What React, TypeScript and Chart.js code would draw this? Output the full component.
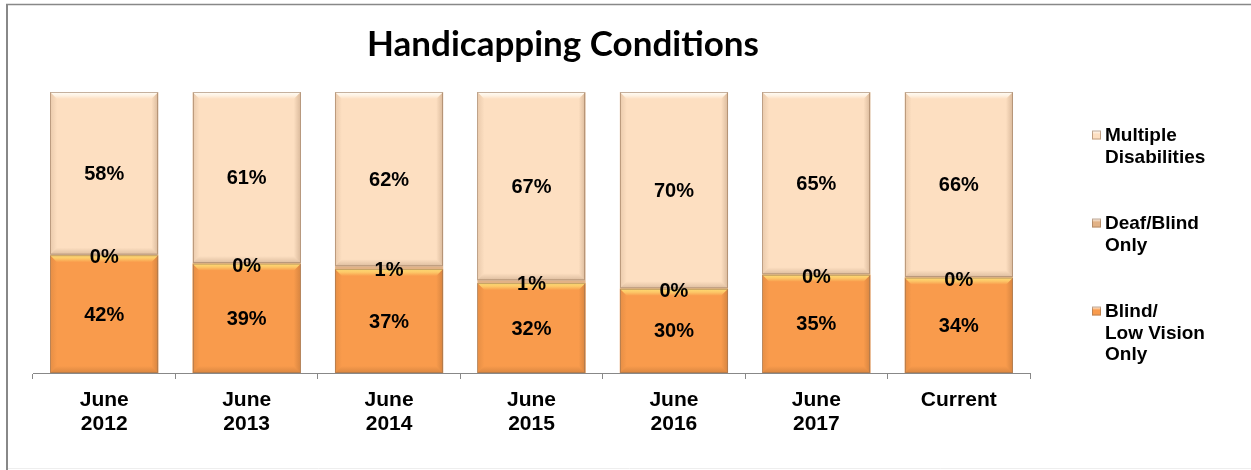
import React, { useEffect, useRef } from 'react';
import { Chart, registerables } from 'chart.js';

Chart.register(...registerables);

const categories: (string | string[])[] = [
  ['June', '2012'],
  ['June', '2013'],
  ['June', '2014'],
  ['June', '2015'],
  ['June', '2016'],
  ['June', '2017'],
  'Current',
];
const blindLowVision = [42, 39, 37, 32, 30, 35, 34];
const deafBlind = [0.2, 0.2, 1, 1, 0.2, 0.2, 0.2];
const multipleDisabilities = [58, 61, 62, 67, 70, 65, 66];

const seriesLabels = [['Blind/', 'Low Vision', 'Only'], ['Deaf/Blind', 'Only'], ['Multiple', 'Disabilities']];
const seriesColors = ['#F99B4C', '#E2B286', '#FDDFC1'];
const highlightColors = ['255,226,120', '255,240,200', '255,255,250'];
const titleText = 'Handicapping Conditions';

const FONT = "'Liberation Sans', Arial, sans-serif";

const rawSeries = [blindLowVision, deafBlind, multipleDisabilities];
const totals = categories.map((_, i) => rawSeries.reduce((s, arr) => s + arr[i], 0));
const shares = rawSeries.map((arr) => arr.map((v, i) => (v / totals[i]) * 100));

const bevelPlugin = {
  id: 'bevel',
  afterDatasetsDraw(chart: any) {
    const ctx: CanvasRenderingContext2D = chart.ctx;
    chart.data.datasets.forEach((_ds: any, di: number) => {
      const meta = chart.getDatasetMeta(di);
      meta.data.forEach((bar: any) => {
        const { x, y, base, width } = bar.getProps(['x', 'y', 'base', 'width'], true);
        const left = x - width / 2;
        const right = x + width / 2;
        const top = Math.min(y, base);
        const bottom = Math.max(y, base);
        const h = bottom - top;
        if (h < 4) return;
        const b = Math.min(7, h / 2);
        ctx.save();
        let g = ctx.createLinearGradient(0, top, 0, top + b);
        g.addColorStop(0, `rgba(${highlightColors[di]},0.95)`);
        g.addColorStop(0.5, `rgba(${highlightColors[di]},0.6)`);
        g.addColorStop(1, `rgba(${highlightColors[di]},0)`);
        ctx.fillStyle = g;
        ctx.beginPath();
        ctx.moveTo(left, top);
        ctx.lineTo(right, top);
        ctx.lineTo(right - b, top + b);
        ctx.lineTo(left + b, top + b);
        ctx.closePath();
        ctx.fill();
        g = ctx.createLinearGradient(right - b, 0, right, 0);
        g.addColorStop(0, 'rgba(90,50,20,0)');
        g.addColorStop(1, 'rgba(90,50,20,0.22)');
        ctx.fillStyle = g;
        ctx.beginPath();
        ctx.moveTo(right, top);
        ctx.lineTo(right, bottom);
        ctx.lineTo(right - b, bottom - b);
        ctx.lineTo(right - b, top + b);
        ctx.closePath();
        ctx.fill();
        g = ctx.createLinearGradient(left, 0, left + b, 0);
        g.addColorStop(0, 'rgba(90,50,20,0.12)');
        g.addColorStop(1, 'rgba(90,50,20,0)');
        ctx.fillStyle = g;
        ctx.beginPath();
        ctx.moveTo(left, top);
        ctx.lineTo(left + b, top + b);
        ctx.lineTo(left + b, bottom - b);
        ctx.lineTo(left, bottom);
        ctx.closePath();
        ctx.fill();
        g = ctx.createLinearGradient(0, bottom - b, 0, bottom);
        g.addColorStop(0, 'rgba(90,50,20,0)');
        g.addColorStop(1, 'rgba(90,50,20,0.2)');
        ctx.fillStyle = g;
        ctx.beginPath();
        ctx.moveTo(left, bottom);
        ctx.lineTo(right, bottom);
        ctx.lineTo(right - b, bottom - b);
        ctx.lineTo(left + b, bottom - b);
        ctx.closePath();
        ctx.fill();
        ctx.strokeStyle = 'rgba(150,115,85,0.55)';
        ctx.lineWidth = 1;
        ctx.strokeRect(Math.round(left) + 0.5, top + 0.5, Math.round(width) - 1, h - 1);
        ctx.restore();
      });
    });
  },
};

const decorPlugin = {
  id: 'decor',
  afterDraw(chart: any) {
    const ctx: CanvasRenderingContext2D = chart.ctx;
    ctx.save();
    ctx.font = `bold 20px ${FONT}`;
    ctx.fillStyle = '#000';
    ctx.textAlign = 'center';
    ctx.textBaseline = 'middle';
    chart.data.datasets.forEach((_ds: any, di: number) => {
      const meta = chart.getDatasetMeta(di);
      meta.data.forEach((bar: any, i: number) => {
        const { x, y, base } = bar.getProps(['x', 'y', 'base'], true);
        const cy = (y + base) / 2 + (di === 1 ? 2 : 0);
        ctx.fillText(`${Math.round(rawSeries[di][i])}%`, x, cy + 1);
      });
    });

    ctx.font = `bold 35px Lato, ${FONT}`;
    ctx.textBaseline = 'alphabetic';
    ctx.fillText(titleText, 563, 56);

    ctx.font = `bold 19px ${FONT}`;
    ctx.textAlign = 'left';
    ctx.textBaseline = 'middle';
    const order = [2, 1, 0];
    order.forEach((si, k) => {
      const y0 = 135 + k * 88;
      const g = ctx.createLinearGradient(1092, y0 - 4.5, 1092, y0 + 4.5);
      g.addColorStop(0, '#ffffff');
      g.addColorStop(0.4, seriesColors[si]);
      g.addColorStop(1, seriesColors[si]);
      ctx.fillStyle = g;
      ctx.fillRect(1092, y0 - 4.5, 9, 9);
      ctx.strokeStyle = 'rgba(150,115,85,0.6)';
      ctx.lineWidth = 1;
      ctx.strokeRect(1092.5, y0 - 4, 8, 8);
      ctx.fillStyle = '#000';
      seriesLabels[si].forEach((line, li) => {
        ctx.fillText(line, 1105, y0 + li * 21.5 + 1);
      });
    });

    ctx.strokeStyle = '#888';
    ctx.lineWidth = 2;
    ctx.beginPath();
    ctx.moveTo(7, 470);
    ctx.lineTo(7, 4.5);
    ctx.stroke();
    ctx.lineWidth = 1.5;
    ctx.beginPath();
    ctx.moveTo(6, 4.5);
    ctx.lineTo(1251, 4.5);
    ctx.stroke();
    ctx.strokeStyle = '#eeeeee';
    ctx.lineWidth = 1;
    ctx.beginPath();
    ctx.moveTo(8, 468.5);
    ctx.lineTo(1251, 468.5);
    ctx.stroke();
    ctx.restore();
  },
};

export default function App() {
  const ref = useRef<HTMLCanvasElement>(null);
  useEffect(() => {
    if (!ref.current) return;
    Chart.defaults.font.family = FONT;
    const chart = new Chart(ref.current, {
      type: 'bar',
      data: {
        labels: categories as any,
        datasets: shares.map((arr, si) => ({
          label: seriesLabels[si].join(' '),
          data: arr,
          backgroundColor: seriesColors[si],
          borderWidth: 0,
          categoryPercentage: 1,
          barPercentage: 0.76,
        })),
      },
      options: {
        animation: false,
        responsive: false,
        maintainAspectRatio: false,
        layout: { padding: { left: 33, right: 221, top: 92, bottom: 25 } },
        plugins: {
          legend: { display: false },
          title: { display: false },
          tooltip: { enabled: false },
        },
        scales: {
          x: {
            stacked: true,
            offset: true,
            grid: {
              display: true,
              drawOnChartArea: false,
              drawTicks: true,
              tickLength: 6,
              color: '#888',
              offset: true,
            },
            border: { display: true, color: '#888', width: 1 },
            ticks: {
              font: { size: 21, weight: 'bold', lineHeight: 24 / 21 },
              color: '#000',
              padding: 9,
              maxRotation: 0,
              autoSkip: false,
            },
          },
          y: { stacked: true, display: false, min: 0, max: 100 },
        },
      },
      plugins: [bevelPlugin, decorPlugin],
    });
    return () => chart.destroy();
  }, []);
  return (
    <div style={{ position: 'absolute', left: 0, top: 0, width: 1251, height: 470, background: '#fff' }}>
      <canvas ref={ref} width={1251} height={470} />
    </div>
  );
}
